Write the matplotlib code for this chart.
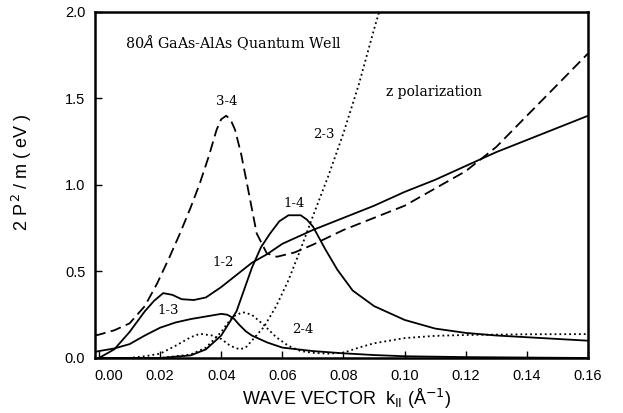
import matplotlib
matplotlib.use("Agg")
import matplotlib.pyplot as plt
import matplotlib.transforms as mtransforms

# ---- data ----
k_34 = [-0.0013, 0.0, 0.005, 0.01, 0.015, 0.019, 0.023, 0.0265, 0.03, 0.033, 0.036,
        0.0385, 0.040, 0.0416, 0.043, 0.0445, 0.0465, 0.0484, 0.0516, 0.0549, 0.0582,
        0.064, 0.07, 0.08, 0.09, 0.10, 0.11, 0.12, 0.13, 0.14, 0.15, 0.16]
v_34 = [0.13, 0.135, 0.16, 0.20, 0.30, 0.43, 0.58, 0.72, 0.87, 1.01, 1.17,
        1.32, 1.38, 1.40, 1.38, 1.32, 1.18, 1.01, 0.72, 0.605, 0.585,
        0.61, 0.655, 0.74, 0.81, 0.88, 0.98, 1.08, 1.22, 1.40, 1.58, 1.76]

k_12 = [0.0, 0.005, 0.01, 0.015, 0.018, 0.021, 0.024, 0.027, 0.031, 0.035, 0.04, 0.045,
        0.05, 0.055, 0.06, 0.07, 0.08, 0.09, 0.10, 0.11, 0.12, 0.13, 0.14, 0.15, 0.16]
v_12 = [0.0, 0.05, 0.15, 0.27, 0.33, 0.375, 0.365, 0.34, 0.335, 0.35, 0.41, 0.48,
        0.55, 0.60, 0.66, 0.74, 0.81, 0.88, 0.96, 1.03, 1.11, 1.19, 1.26, 1.33, 1.40]

k_14 = [0.0, 0.02, 0.03, 0.035, 0.04, 0.045, 0.05, 0.053, 0.056, 0.059, 0.062, 0.066,
        0.068, 0.07, 0.074, 0.078, 0.083, 0.09, 0.10, 0.11, 0.12, 0.13, 0.14, 0.15, 0.16]
v_14 = [0.0, 0.0, 0.015, 0.05, 0.13, 0.27, 0.52, 0.64, 0.72, 0.79, 0.825, 0.825,
        0.80, 0.76, 0.63, 0.51, 0.39, 0.30, 0.22, 0.17, 0.145, 0.13, 0.12, 0.11, 0.10]

k_13 = [-0.0013, 0.0, 0.005, 0.01, 0.015, 0.02, 0.025, 0.03, 0.035, 0.04, 0.042, 0.044,
        0.046, 0.048, 0.05, 0.055, 0.06, 0.07, 0.08, 0.09, 0.10, 0.12, 0.16]
v_13 = [0.035, 0.04, 0.055, 0.08, 0.13, 0.175, 0.205, 0.225, 0.24, 0.255, 0.25, 0.23,
        0.19, 0.155, 0.13, 0.09, 0.06, 0.04, 0.027, 0.017, 0.01, 0.005, 0.0]

k_23 = [0.0, 0.01, 0.015, 0.02, 0.025, 0.03, 0.033, 0.037, 0.04, 0.043, 0.046, 0.048,
        0.05, 0.054, 0.058, 0.062, 0.066, 0.07, 0.075, 0.08, 0.085, 0.09, 0.0925]
v_23 = [0.0, 0.0, 0.01, 0.025, 0.07, 0.12, 0.14, 0.13, 0.11, 0.07, 0.05, 0.06,
        0.10, 0.18, 0.30, 0.45, 0.63, 0.82, 1.05, 1.30, 1.58, 1.90, 2.05]

k_24 = [0.0, 0.02, 0.03, 0.035, 0.04, 0.042, 0.044, 0.047, 0.05, 0.052, 0.054, 0.058,
        0.062, 0.066, 0.07, 0.075, 0.08, 0.085, 0.09, 0.10, 0.11, 0.12, 0.14, 0.16]
v_24 = [0.0, 0.0, 0.02, 0.06, 0.15, 0.20, 0.24, 0.265, 0.25, 0.22, 0.19, 0.12,
        0.07, 0.04, 0.03, 0.025, 0.03, 0.06, 0.085, 0.115, 0.128, 0.133, 0.137, 0.138]

x_ticks = [0.00, 0.02, 0.04, 0.06, 0.08, 0.10, 0.12, 0.14, 0.16]
x_ticklabels = ["0.00", "0.02", "0.04", "0.06", "0.08", "0.10", "0.12", "0.14", "0.16"]
y_ticks = [0.0, 0.5, 1.0, 1.5, 2.0]
y_ticklabels = ["0.0", "0.5", "1.0", "1.5", "2.0"]

curve_labels = ["3-4", "2-3", "1-4", "1-2", "1-3", "2-4"]
label_pos = [(0.0418, 1.48), (0.0735, 1.29), (0.0637, 0.895), (0.0407, 0.55),
             (0.0226, 0.273), (0.0667, 0.162)]

# ---- figure ----
fig = plt.figure(figsize=(6.23, 4.13), dpi=100)
ax = fig.add_axes([0.1525, 0.1332, 0.7913, 0.8378])

lw = 1.3
ax.plot(k_34, v_34, color="black", lw=lw, dashes=(6, 3))
ax.plot(k_12, v_12, color="black", lw=lw)
ax.plot(k_14, v_14, color="black", lw=lw)
ax.plot(k_13, v_13, color="black", lw=lw)
ax.plot(k_23, v_23, color="black", lw=lw, dashes=(1, 1.7))
ax.plot(k_24, v_24, color="black", lw=lw, dashes=(1, 1.7))

ax.set_xlim(-0.0013, 0.16)
ax.set_ylim(0.0, 2.0)

serif = "DejaVu Serif"
for lab, (x, y) in zip(curve_labels, label_pos):
    ax.text(x, y, lab, family=serif, fontsize=9.5, ha="center", va="center")

ax.text(0.0085, 1.82, "80$\\AA$ GaAs-AlAs Quantum Well", family=serif,
        fontsize=10.3, ha="left", va="center")
ax.text(0.094, 1.54, "z polarization", family=serif, fontsize=10,
        ha="left", va="center")

sans = "Liberation Sans"
ax.set_xticks(x_ticks)
ax.set_xticklabels(x_ticklabels, family=sans, fontsize=10.5)
ax.set_yticks(y_ticks)
ax.set_yticklabels(y_ticklabels, family=sans, fontsize=10.5)
ax.tick_params(direction="in", length=5, width=1.0, pad=7)
ax.tick_params(axis="x", pad=8)

# shift the first x tick label a little to the right like the original
offset = mtransforms.ScaledTranslation(10 / 100, 0, fig.dpi_scale_trans)
first = ax.get_xticklabels()[0]
first.set_transform(first.get_transform() + offset)

for s in ax.spines.values():
    s.set_linewidth(1.8)

ax.set_xlabel("WAVE VECTOR  k$_{\\rm II}$ (Å$^{-1}$)", family=sans, fontsize=13)
ax.set_ylabel("2 P$^{\\,2}$ / m ( eV )", family=sans, fontsize=13)
ax.yaxis.set_label_coords(-0.148, 0.537)
ax.xaxis.set_label_coords(0.51, -0.118)
ax.xaxis.label.set_va("center")
ax.yaxis.label.set_va("center")

fig.savefig("out.png", dpi=100)
